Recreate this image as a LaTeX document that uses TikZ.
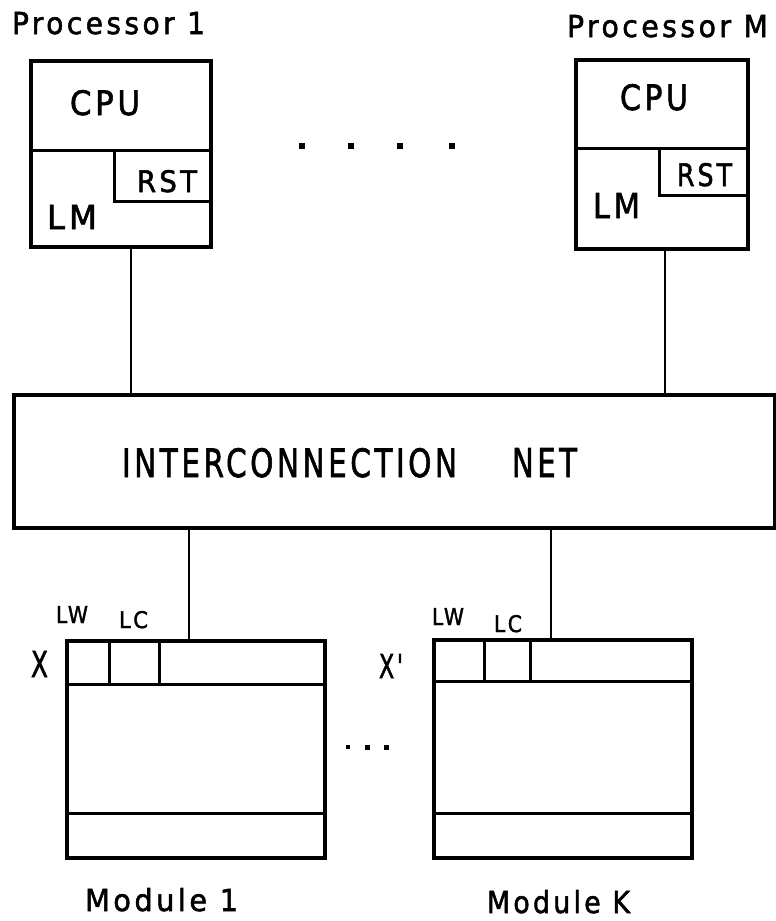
\documentclass[tikz,border=0pt]{standalone}
\usepackage{fontspec}
\setmainfont{DejaVu Sans}
\newfontfamily\lblfont[FakeBold=1.8, LetterSpace=12]{DejaVu Sans}
\usepackage{graphicx}
\newcommand{\fittext}[3]{\resizebox{#1pt}{#2pt}{\lblfont #3}}
\begin{document}
\begin{tikzpicture}[x=1pt,y=-1pt,
  box/.style={draw, line width=3.3pt, inner sep=0pt, outer sep=0pt, rectangle},
  part/.style={line width=3pt},
  wire/.style={line width=2.7pt},
  lbl/.style={inner sep=0pt, outer sep=0pt, anchor=base west},
  dot/.style={fill=black, inner sep=0pt, minimum size=6pt, rectangle}]
\useasboundingbox (0,0) rectangle (776,921);

% processors
\node[box, minimum width=180pt, minimum height=186pt] (p1) at (121,154) {};
\node[box, minimum width=172pt, minimum height=189pt] (pm) at (662,154.5) {};
\draw[part] (31,150) -- (211,150);
\draw[part] (114,150) -- (114,201) -- (211,201);
\draw[part] (576,148) -- (748,148);
\draw[part] (659,148) -- (659,195) -- (748,195);

\node[lbl] (t1) at (12,34) {\fittext{193}{22}{Processor 1}};
\node[lbl] (tm) at (567,37) {\fittext{201}{22}{Processor M}};
\node[lbl] (cpu1) at (70,115) {\fittext{70}{25}{CPU}};
\node[lbl] (rst1) at (137,192) {\fittext{60}{22}{RST}};
\node[lbl] (lm1) at (47,229) {\fittext{50}{24}{LM}};
\node[lbl] (cpum) at (620,110) {\fittext{68}{26}{CPU}};
\node[lbl] (rstm) at (677,186) {\fittext{55}{23}{RST}};
\node[lbl] (lmm) at (593,218) {\fittext{47}{25}{LM}};

\node[dot] (d1) at (302,146) {};
\node[dot] (d2) at (351,146) {};
\node[dot] (d3) at (400,146) {};
\node[dot] (d4) at (452,146) {};

% network
\node[box, minimum width=761pt, minimum height=133pt] (net) at (394.5,461.5) {};
\node[lbl] (ic) at (122,477) {\fittext{335}{29}{INTERCONNECTION}};
\node[lbl] (nt) at (512,477) {\fittext{65}{29}{NET}};

% modules
\node[box, minimum width=258pt, minimum height=217pt] (m1) at (196,749.5) {};
\node[box, minimum width=258pt, minimum height=218pt] (mk) at (563,749) {};
\draw[part] (67,684) -- (325,684);
\draw[part] (67,813) -- (325,813);
\draw[part] (109,641) -- (109,684);
\draw[part] (159,641) -- (159,684);
\draw[part] (434,681) -- (692,681);
\draw[part] (434,813) -- (692,813);
\draw[part] (484,640) -- (484,681);
\draw[part] (530,640) -- (530,681);

\node[lbl] (lw1) at (56,623) {\fittext{32}{17}{LW}};
\node[lbl] (lc1) at (119,628) {\fittext{29}{17}{LC}};
\node[lbl] (lwk) at (432,625) {\fittext{32}{17}{LW}};
\node[lbl] (lck) at (494,632) {\fittext{28}{17}{LC}};
\node[lbl] (x1) at (31,677) {\fittext{17}{26}{X}};
\node[lbl] (xk) at (379,678) {\fittext{24}{24}{X'}};
\node[lbl] (mod1) at (85,911) {\fittext{153}{23}{Module 1}};
\node[lbl] (modk) at (487,913) {\fittext{143}{23}{Module K}};

\node[dot, minimum size=4pt] (e1) at (348,747) {};
\node[dot, minimum size=5pt] (e2) at (367,747) {};
\node[dot, minimum size=5pt] (e3) at (386,747) {};

% connectors
\coordinate (c1) at (131,300);
\coordinate (cm) at (665,300);
\coordinate (c2) at (189,600);
\coordinate (ck) at (551,600);
\draw[wire] (p1.south -| c1) -- (net.north -| c1);
\draw[wire] (pm.south -| cm) -- (net.north -| cm);
\draw[wire] (net.south -| c2) -- (m1.north -| c2);
\draw[wire] (net.south -| ck) -- (mk.north -| ck);
\end{tikzpicture}
\end{document}
